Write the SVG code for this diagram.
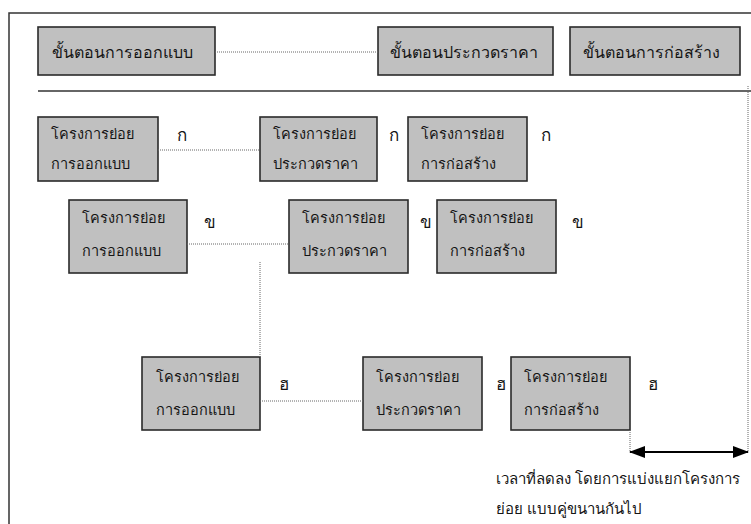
<svg xmlns="http://www.w3.org/2000/svg" width="751" height="524" viewBox="0 0 751 524">
  <style>
    .box { fill: #c0c0c0; stroke: #2a2a2a; stroke-width: 1.6; }
    .t { font-family: "Noto Sans", "DejaVu Sans", "Liberation Sans", sans-serif; fill: #151515; }
    .phase { font-size: 16px; }
    .sub { font-size: 14.5px; }
    .mark { font-size: 17px; }
    .cap { font-size: 15px; }
    .dot { fill: none; stroke: #666; stroke-width: 1; stroke-dasharray: 1 1; }
    .solid { fill: none; stroke: #333; stroke-width: 1.5; }
  </style>
  <defs>
    <marker id="head" viewBox="0 0 16 12" refX="15" refY="6" markerWidth="16" markerHeight="12" markerUnits="userSpaceOnUse" orient="auto-start-reverse">
      <path d="M0,0 L16,6 L0,12 Z" fill="#000"/>
    </marker>
  </defs>

  <rect width="751" height="524" fill="#fff"/>

  <!-- frame and divider -->
  <g id="frame">
    <path class="solid" d="M9,524 V13 H751"/>
    <line class="solid" x1="38" y1="91" x2="751" y2="91" stroke-width="2"/>
  </g>

  <!-- phases -->
  <g id="phase-design">
    <rect class="box" x="38" y="27" width="177" height="48"/>
    <text class="t phase" x="52" y="58">ขั้นตอนการออกแบบ</text>
  </g>
  <g id="phase-bidding">
    <rect class="box" x="378" y="27" width="175" height="48"/>
    <text class="t phase" x="390" y="58">ขั้นตอนประกวดราคา</text>
  </g>
  <g id="phase-construction">
    <rect class="box" x="570" y="27" width="170" height="48"/>
    <text class="t phase" x="583" y="58">ขั้นตอนการก่อสร้าง</text>
  </g>

  <!-- row ก -->
  <g id="a1">
    <rect class="box" x="38" y="117" width="120" height="64"/>
    <text class="t sub" x="51" y="139">โครงการย่อย</text>
    <text class="t sub" x="51" y="169">การออกแบบ</text>
  </g>
  <g id="b1">
    <rect class="box" x="260" y="117" width="117" height="64"/>
    <text class="t sub" x="273" y="139">โครงการย่อย</text>
    <text class="t sub" x="273" y="169">ประกวดราคา</text>
  </g>
  <g id="c1">
    <rect class="box" x="408" y="117" width="119" height="64"/>
    <text class="t sub" x="421" y="139">โครงการย่อย</text>
    <text class="t sub" x="421" y="169">การก่อสร้าง</text>
  </g>

  <!-- row ข -->
  <g id="a2">
    <rect class="box" x="69" y="200" width="118" height="73"/>
    <text class="t sub" x="82" y="223">โครงการย่อย</text>
    <text class="t sub" x="82" y="256">การออกแบบ</text>
  </g>
  <g id="b2">
    <rect class="box" x="289" y="200" width="119" height="73"/>
    <text class="t sub" x="302" y="223">โครงการย่อย</text>
    <text class="t sub" x="302" y="256">ประกวดราคา</text>
  </g>
  <g id="c2">
    <rect class="box" x="437" y="200" width="119" height="73"/>
    <text class="t sub" x="450" y="223">โครงการย่อย</text>
    <text class="t sub" x="450" y="256">การก่อสร้าง</text>
  </g>

  <!-- row ฮ -->
  <g id="a3">
    <rect class="box" x="142" y="357" width="118" height="73"/>
    <text class="t sub" x="156" y="382">โครงการย่อย</text>
    <text class="t sub" x="156" y="415">การออกแบบ</text>
  </g>
  <g id="b3">
    <rect class="box" x="363" y="357" width="119" height="73"/>
    <text class="t sub" x="376" y="382">โครงการย่อย</text>
    <text class="t sub" x="376" y="415">ประกวดราคา</text>
  </g>
  <g id="c3">
    <rect class="box" x="511" y="357" width="119" height="73"/>
    <text class="t sub" x="524" y="382">โครงการย่อย</text>
    <text class="t sub" x="524" y="415">การก่อสร้าง</text>
  </g>

  <!-- sequence marks -->
  <g id="marks" class="t mark">
    <text x="177" y="141">ก</text>
    <text x="389" y="141">ก</text>
    <text x="541" y="141">ก</text>
    <text x="204" y="228">ข</text>
    <text x="420" y="228">ข</text>
    <text x="572" y="228">ข</text>
    <text x="279" y="390">ฮ</text>
    <text x="496" y="390">ฮ</text>
    <text x="648" y="390">ฮ</text>
  </g>

  <!-- connectors -->
  <g id="connectors">
    <line class="dot" x1="215" y1="52" x2="378" y2="52"/>
    <line class="dot" x1="158" y1="150" x2="260" y2="150"/>
    <line class="dot" x1="187" y1="244" x2="289" y2="244"/>
    <line class="dot" x1="260" y1="262" x2="260" y2="357"/>
    <line class="dot" x1="260" y1="401" x2="363" y2="401"/>
    <line class="dot" x1="748" y1="86" x2="748" y2="452"/>
    <line class="dot" x1="630" y1="430" x2="630" y2="452"/>
    <line x1="630" y1="452" x2="748" y2="452" stroke="#000" stroke-width="2" marker-start="url(#head)" marker-end="url(#head)"/>
  </g>

  <!-- caption -->
  <g id="caption" class="t cap">
    <text x="496" y="484">เวลาที่ลดลง โดยการแบ่งแยกโครงการ</text>
    <text x="496" y="514">ย่อย แบบคู่ขนานกันไป</text>
  </g>
</svg>
